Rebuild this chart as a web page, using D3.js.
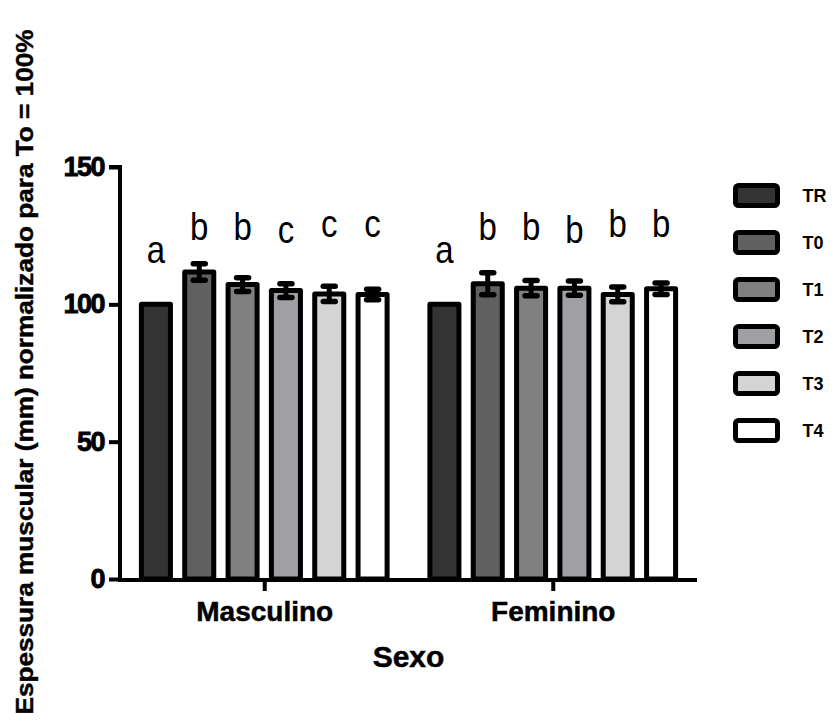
<!DOCTYPE html>
<html>
<head>
<meta charset="utf-8">
<script src="https://cdn.jsdelivr.net/npm/d3@7"></script>
<style>
  html, body { margin: 0; padding: 0; background: #fff; }
  svg { display: block; font-family: "Liberation Sans", Arial, sans-serif; }
</style>
</head>
<body>
<svg id="chart" width="834" height="726"></svg>
<script>
// Groups (sex) and treatment series
const groups = ["Masculino", "Feminino"];
const series = ["TR", "T0", "T1", "T2", "T3", "T4"];
const colors = ["#333333", "#606060", "#808080", "#a0a0a4", "#d4d4d4", "#ffffff"];

// Mean muscle thickness normalised to To = 100%
const masculinoMean = [100, 111.8, 107.2, 105.0, 103.8, 103.6];
const femininoMean  = [100, 107.5, 105.9, 105.9, 103.6, 105.7];
// Standard error of the mean
const masculinoSem  = [0, 3.0, 2.5, 2.5, 2.8, 1.9];
const femininoSem   = [0, 4.0, 2.8, 2.6, 2.7, 2.1];

// Statistical significance letters and the height (data units) they sit at
const masculinoLetters = ["a", "b", "b", "c", "c", "c"];
const femininoLetters  = ["a", "b", "b", "b", "b", "b"];
const masculinoLetterY = [115, 123.4, 123.4, 122.3, 124.5, 124.5];
const femininoLetterY  = [115, 123.4, 123.4, 122.3, 124.5, 124.5];

const yTicks = [0, 50, 100, 150];

const yLabel = "Espessura muscular (mm) normalizado para To = 100%";
const xLabel = "Sexo";

const data = groups.map((g, gi) => ({
  group: g,
  values: series.map((s, si) => ({
    series: s,
    color: colors[si],
    mean: gi === 0 ? masculinoMean[si] : femininoMean[si],
    sem: gi === 0 ? masculinoSem[si] : femininoSem[si],
    letter: gi === 0 ? masculinoLetters[si] : femininoLetters[si],
    letterY: gi === 0 ? masculinoLetterY[si] : femininoLetterY[si]
  }))
}));

const svg = d3.select("#chart");

const x0 = 120, x1 = 697, yBase = 579, yTop = 167;

const y = d3.scaleLinear().domain([0, 150]).range([yBase, yTop]);
const xg = d3.scalePoint().domain(groups).range([x0, x1]).padding(0.5);
const xs = d3.scaleBand().domain(series).range([-130, 130])
  .paddingInner(0.33).paddingOuter(0.165);

// Bars
const g = svg.append("g");
const grp = g.selectAll("g.grp").data(data).join("g")
  .attr("class", "grp")
  .attr("transform", d => `translate(${xg(d.group)},0)`);

grp.selectAll("rect.bar").data(d => d.values).join("rect")
  .attr("class", "bar")
  .attr("x", d => xs(d.series))
  .attr("width", xs.bandwidth())
  .attr("y", d => y(d.mean))
  .attr("height", d => y(0) - y(d.mean))
  .attr("fill", d => d.color)
  .attr("stroke", "#000")
  .attr("stroke-width", 5)
  .attr("stroke-linejoin", "round");

// Error bars (mean ± SEM)
const eb = grp.selectAll("g.err").data(d => d.values.filter(v => v.sem > 0)).join("g")
  .attr("class", "err")
  .attr("transform", d => `translate(${xs(d.series) + xs.bandwidth() / 2},0)`);

eb.append("line")
  .attr("x1", 0).attr("x2", 0)
  .attr("y1", d => y(d.mean - d.sem)).attr("y2", d => y(d.mean + d.sem))
  .attr("stroke", "#000").attr("stroke-width", 5);
eb.append("line")
  .attr("x1", -6).attr("x2", 6)
  .attr("y1", d => y(d.mean + d.sem)).attr("y2", d => y(d.mean + d.sem))
  .attr("stroke", "#000").attr("stroke-width", 5.5).attr("stroke-linecap", "round");
eb.append("line")
  .attr("x1", -6).attr("x2", 6)
  .attr("y1", d => y(d.mean - d.sem)).attr("y2", d => y(d.mean - d.sem))
  .attr("stroke", "#000").attr("stroke-width", 5.5).attr("stroke-linecap", "round");

// Significance letters (slightly tall glyphs)
grp.selectAll("text.letter").data(d => d.values).join("text")
  .attr("class", "letter")
  .attr("transform", d => `translate(${xs(d.series) + xs.bandwidth() / 2},${y(d.letterY)}) scale(1,1.15)`)
  .attr("text-anchor", "middle")
  .attr("font-size", 33)
  .attr("fill", "#000")
  .text(d => d.letter);

// Y axis
const yAxis = svg.append("g")
  .attr("transform", `translate(${x0},0)`)
  .call(d3.axisLeft(y).tickValues(yTicks).tickSize(11).tickPadding(5));
yAxis.select(".domain").attr("stroke", "#000").attr("stroke-width", 4)
  .attr("d", `M-11,${yTop}H0V${yBase + 1.5}`);
yAxis.selectAll(".tick line").attr("stroke", "#000").attr("stroke-width", 4);
yAxis.selectAll(".tick text")
  .attr("font-size", 27).attr("font-weight", "bold")
  .attr("font-family", "Liberation Sans, Arial, sans-serif")
  .attr("letter-spacing", -1.5)
  .attr("stroke", "#000").attr("stroke-width", 0.8)
  .attr("fill", "#000");

// X axis
const xAxis = svg.append("g")
  .attr("transform", `translate(0,${yBase + 1})`)
  .call(d3.axisBottom(xg).tickSize(11).tickPadding(10));
xAxis.select(".domain").attr("stroke", "#000").attr("stroke-width", 4)
  .attr("d", `M${x0 - 2},0H${x1}`);
xAxis.selectAll(".tick line").attr("stroke", "#000").attr("stroke-width", 4);
xAxis.selectAll(".tick text")
  .attr("font-size", 28).attr("font-weight", "bold")
  .attr("font-family", "Liberation Sans, Arial, sans-serif")
  .attr("stroke", "#000").attr("stroke-width", 0.5)
  .attr("fill", "#000");

// Axis titles
svg.append("text")
  .attr("x", (x0 + x1) / 2).attr("y", 667)
  .attr("text-anchor", "middle")
  .attr("font-size", 30).attr("font-weight", "bold")
  .attr("stroke", "#000").attr("stroke-width", 0.5)
  .text(xLabel);

svg.append("text")
  .attr("transform", "translate(33,372) rotate(-90)")
  .attr("text-anchor", "middle")
  .attr("font-size", 23).attr("font-weight", "bold")
  .attr("stroke", "#000").attr("stroke-width", 0.4)
  .attr("textLength", 685).attr("lengthAdjust", "spacingAndGlyphs")
  .text(yLabel);

// Legend
const legend = svg.append("g").attr("transform", "translate(735.5,185.5)");
const li = legend.selectAll("g").data(series).join("g")
  .attr("transform", (d, i) => `translate(0,${i * 47})`);
li.append("rect")
  .attr("width", 42).attr("height", 20).attr("rx", 3)
  .attr("fill", (d, i) => colors[i])
  .attr("stroke", "#000").attr("stroke-width", 5);
li.append("text")
  .attr("x", 67).attr("y", 10)
  .attr("dominant-baseline", "central")
  .attr("font-size", 18).attr("font-weight", "bold")
  .text(d => d);
</script>
</body>
</html>
